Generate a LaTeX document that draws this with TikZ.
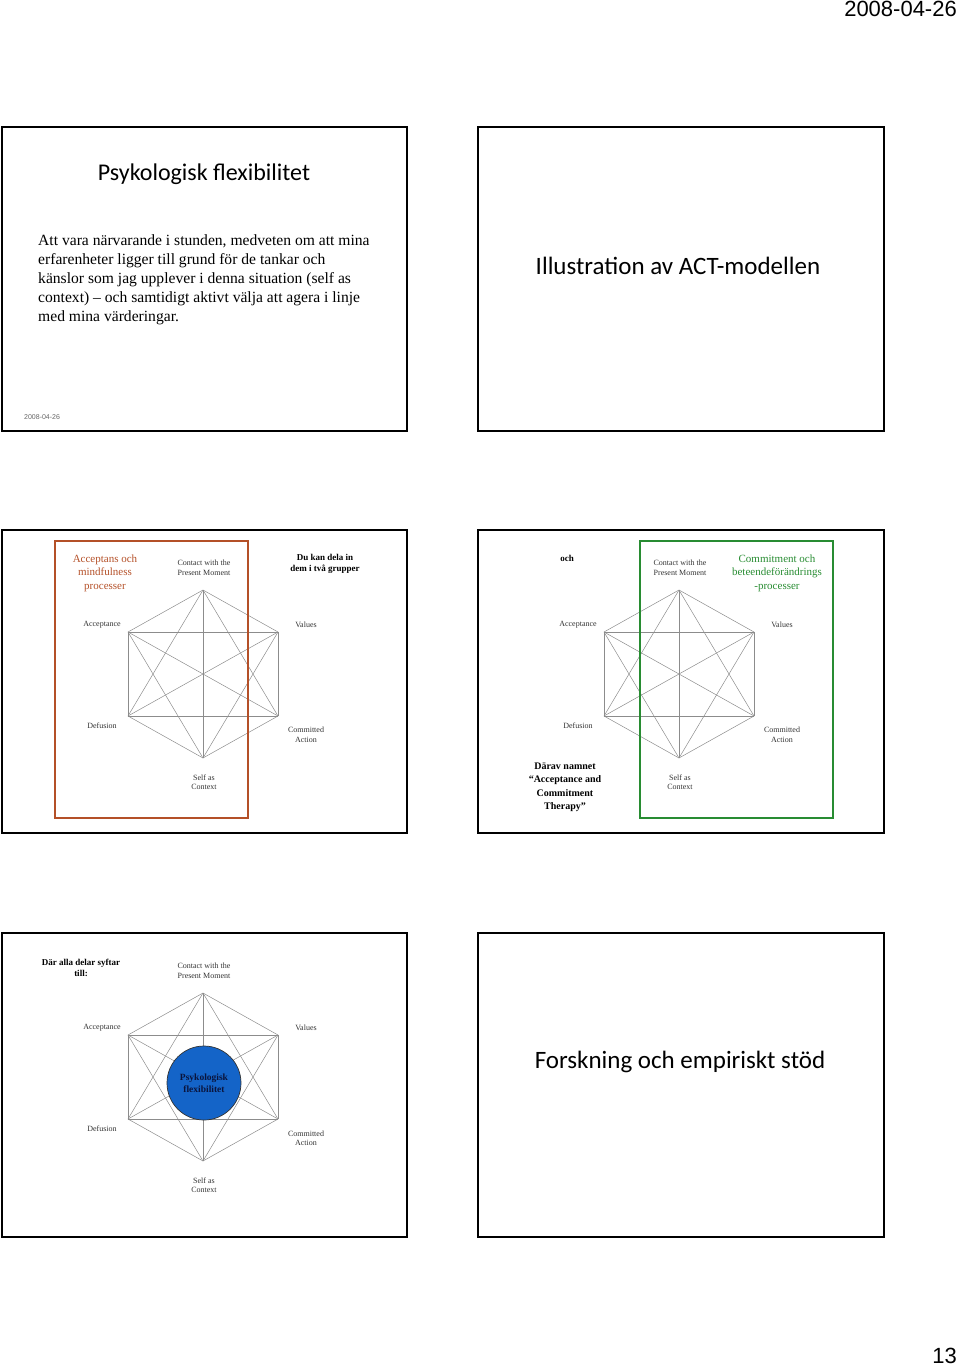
\documentclass[tikz,border=0pt]{standalone}
\usepackage{fontspec}
\setmainfont{Liberation Serif}
\newfontfamily\calfnt{Carlito}
\newfontfamily\arifnt{Liberation Sans}
\begin{document}
\begin{tikzpicture}[x=1pt,y=-1pt,
  slide/.style={draw=black,line width=1.8pt},
  lbl/.style={font=\fontsize{8}{9.5}\selectfont,text=black!80,align=center,inner sep=0},
  edge/.style={draw=black!45,line width=0.5pt},
  big/.style={font=\calfnt\fontsize{25}{28}\selectfont,inner sep=0}]
\useasboundingbox (0,0) rectangle (960,1366);
\node[font=\arifnt\fontsize{22}{24}\selectfont,anchor=north east,inner sep=0] (date) at (957,1) {2008-04-26};
\node[font=\arifnt\fontsize{22}{24}\selectfont,anchor=south east,inner sep=0] (pg) at (957,1364) {13};
% slides
\draw[slide] (2,127) rectangle (407,431);
\draw[slide] (478,127) rectangle (884,431);
\draw[slide] (2,530) rectangle (407,833);
\draw[slide] (478,530) rectangle (884,833);
\draw[slide] (2,933) rectangle (407,1237);
\draw[slide] (478,933) rectangle (884,1237);
% slide 1
\node[big,font=\calfnt\fontsize{24}{27}\selectfont] (t1) at (204,174) {Psykologisk flexibilitet};
\node[anchor=north west,align=left,inner sep=0,font=\fontsize{15.6}{19}\selectfont] (b1) at (38,234)
 {Att vara närvarande i stunden, medveten om att mina\\erfarenheter ligger till grund för de tankar och\\känslor som jag upplever i denna situation (self as\\context) -- och samtidigt aktivt välja att agera i linje\\med mina värderingar.};
\node[font=\arifnt\fontsize{7}{8}\selectfont,text=black!60,anchor=west,inner sep=0] (f1) at (24,417) {2008-04-26};
% slide 2
\node[big] (t2) at (678,266) {Illustration av ACT-modellen};
% slide 6
\node[big] (t6) at (680,1062) {Forskning och empiriskt stöd};
% hexagon macro
\newcommand{\hexa}[3]{%
 \begin{scope}[shift={(#1,#2)}]
  \coordinate (#3a) at (203,590); \coordinate (#3b) at (278,632);
  \coordinate (#3c) at (278,716); \coordinate (#3d) at (203,758);
  \coordinate (#3e) at (128,716); \coordinate (#3f) at (128,632);
  \foreach \p/\q in {a/b,a/c,a/d,a/e,a/f,b/c,b/d,b/e,b/f,c/d,c/e,c/f,d/e,d/f,e/f}
    \draw[edge] (#3\p) -- (#3\q);
  \node[lbl] (#3ct) at (204,568) {Contact with the\\Present Moment};
  \node[lbl] (#3ac) at (102,625) {Acceptance};
  \node[lbl] (#3va) at (306,625) {Values};
  \node[lbl] (#3de) at (102,726) {Defusion};
  \node[lbl] (#3co) at (306,735) {Committed\\Action};
  \node[lbl] (#3se) at (204,782) {Self as\\Context};
 \end{scope}}
% slide 3
\hexa{0}{0}{p}
\draw[draw={rgb,255:red,180;green,80;blue,40},line width=1.3pt] (55,541) rectangle (248,818);
\node[font=\fontsize{11}{13.5}\selectfont,text={rgb,255:red,180;green,80;blue,40},align=center,inner sep=0] (g1) at (105,573) {Acceptans och\\mindfulness\\processer};
\node[font=\bfseries\fontsize{9}{11.5}\selectfont,align=center,inner sep=0] (d1) at (325,564) {Du kan dela in\\dem i två grupper};
% slide 4
\hexa{476}{0}{q}
\draw[draw={rgb,255:red,40;green,140;blue,50},line width=1.3pt] (640,541) rectangle (833,818);
\node[font=\fontsize{11}{13.5}\selectfont,text={rgb,255:red,40;green,140;blue,50},align=center,inner sep=0] (g2) at (777,573) {Commitment och\\beteendeförändrings\\-processer};
\node[font=\bfseries\fontsize{9}{11}\selectfont,inner sep=0] (och) at (567,558) {och};
\node[font=\bfseries\fontsize{10}{13.5}\selectfont,align=center,inner sep=0] (dn) at (565,787) {Därav namnet\\“Acceptance and\\Commitment\\Therapy”};
% slide 5
\hexa{0}{403}{r}
\node[circle,fill={rgb,255:red,20;green,100;blue,200},draw=black!80,line width=0.7pt,minimum size=74pt,inner sep=0,
  font=\bfseries\fontsize{9.5}{12}\selectfont,text={rgb,255:red,10;green,20;blue,60},align=center] (pf) at (204,1083) {Psykologisk\\flexibilitet};
\node[font=\bfseries\fontsize{9}{11.5}\selectfont,align=center,inner sep=0] (d5) at (81,968) {Där alla delar syftar\\till:};
\end{tikzpicture}
\end{document}
